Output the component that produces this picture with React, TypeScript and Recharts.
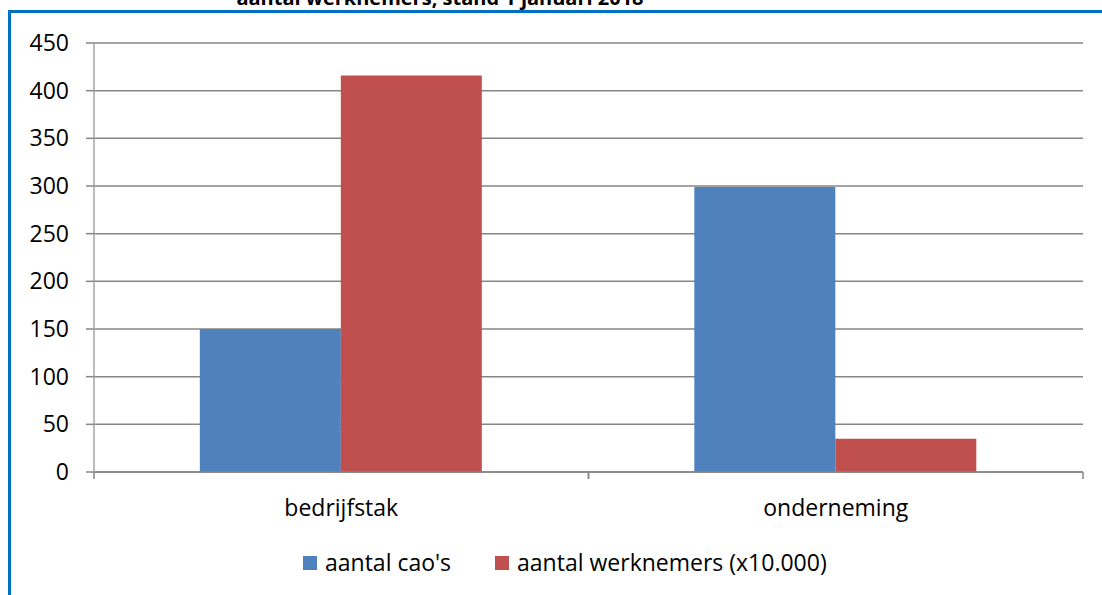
import React from 'react';
import { BarChart, Bar, XAxis, YAxis, CartesianGrid } from 'recharts';

const categories = ['bedrijfstak', 'onderneming'];
const caoValues = [150, 299];
const werknemersValues = [416, 35];
const yTicks = [0, 50, 100, 150, 200, 250, 300, 350, 400, 450];
const seriesNames = ["aantal cao's", 'aantal werknemers (x10.000)'];
const seriesColors = ['#4F81BD', '#C0504D'];
const titleText = 'aantal werknemers, stand 1 januari 2018';

const data = categories.map((c, i) => ({ name: c, cao: caoValues[i], werk: werknemersValues[i] }));

const FONT = '"Open Sans", sans-serif';
const FS = 23;
const GRID = '#868686';

const XTick = (props: any) => {
  const { x, y, payload } = props;
  const half = payload && typeof payload.offset === 'number' ? payload.offset : 0;
  return (
    <g>
      <line x1={x - half} x2={x - half} y1={y} y2={y + 7} stroke={GRID} strokeWidth={1.5} />
      <line x1={x + half} x2={x + half} y1={y} y2={y + 7} stroke={GRID} strokeWidth={1.5} />
      <text x={x} y={y + 44} textAnchor="middle" fill="#000" fontSize={FS} fontFamily={FONT}>
        {payload.value}
      </text>
    </g>
  );
};

export default function App() {
  return (
    <div style={{ position: 'absolute', left: 0, top: 0, width: 1102, height: 595, overflow: 'hidden', background: '#fff' }}>
      <div
        style={{
          position: 'absolute',
          left: 8,
          top: 10,
          width: 1300,
          height: 800,
          borderLeft: '3px solid #0070C0',
          borderTop: '3px solid #0070C0',
        }}
      />
      <svg style={{ position: 'absolute', left: 0, top: 0 }} width={1102} height={20}>
        <text x={440} y={5} textAnchor="middle" fontWeight="bold" fontSize={20} fontFamily={FONT} fill="#000">
          {titleText}
        </text>
      </svg>
      <div style={{ position: 'absolute', left: 0, top: 0 }}>
        <BarChart
          width={1102}
          height={595}
          data={data}
          margin={{ top: 43, right: 19, bottom: 0, left: 0 }}
          barCategoryGap="21.4%"
          barGap={0}
        >
          <CartesianGrid vertical={false} stroke={GRID} strokeWidth={1.5} />
          <XAxis
            dataKey="name"
            height={123}
            axisLine={{ stroke: GRID, strokeWidth: 1.5 }}
            tickLine={false}
            tickSize={0}
            tickMargin={0}
            tick={<XTick />}
            interval={0}
          />
          <YAxis
            width={94}
            domain={[0, 450]}
            ticks={yTicks}
            interval={0}
            tickSize={8}
            tickMargin={17}
            axisLine={{ stroke: '#A6A6A6', strokeWidth: 1.5 }}
            tickLine={{ stroke: GRID, strokeWidth: 1.5 }}
            tick={{ fill: '#000', fontSize: FS, fontFamily: FONT }}
          />
          <Bar dataKey="cao" name={seriesNames[0]} fill={seriesColors[0]} isAnimationActive={false} />
          <Bar dataKey="werk" name={seriesNames[1]} fill={seriesColors[1]} isAnimationActive={false} />
        </BarChart>
      </div>
      <div
        style={{
          position: 'absolute',
          left: 303,
          top: 547,
          display: 'flex',
          alignItems: 'center',
          fontFamily: FONT,
          fontSize: FS,
          lineHeight: '31px',
          color: '#000',
          whiteSpace: 'nowrap',
        }}
      >
        {seriesNames.map((n, i) => (
          <div key={n} style={{ display: 'flex', alignItems: 'center', marginRight: i === 0 ? 44 : 0 }}>
            <span style={{ display: 'inline-block', width: 14, height: 14, background: seriesColors[i], marginRight: 8 }} />
            <span>{n}</span>
          </div>
        ))}
      </div>
    </div>
  );
}
